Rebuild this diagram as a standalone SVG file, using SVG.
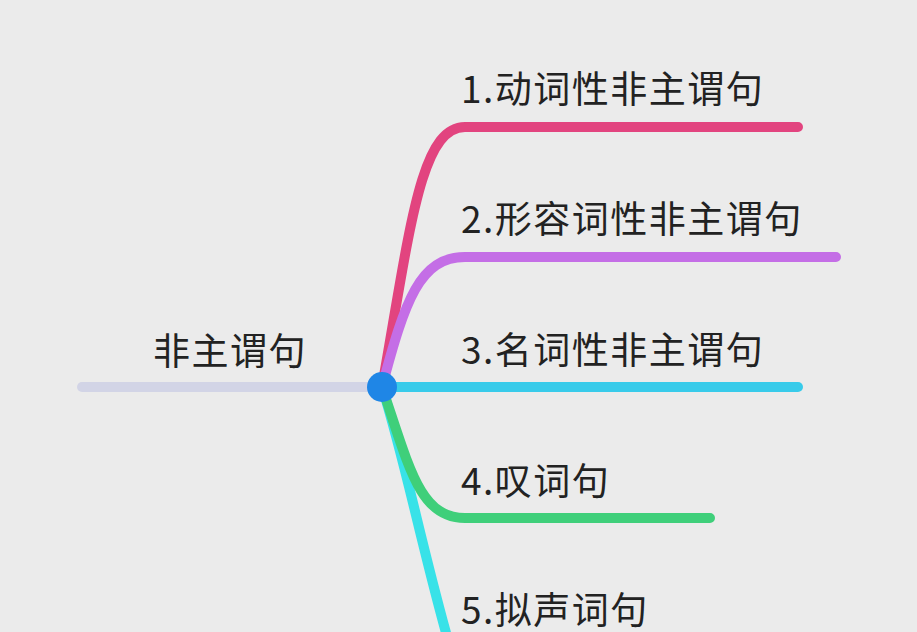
<svg xmlns="http://www.w3.org/2000/svg" width="917" height="632" viewBox="0 0 917 632">
<style>
.t{font-family:"Noto Sans CJK SC","Noto Sans",sans-serif;font-size:37px;letter-spacing:1.5px;fill:#222}
.c{fill:none;stroke-width:10;stroke-linecap:round}
</style>
<rect width="917" height="632" fill="#ebebeb"/>
<g id="connectors">
<path class="c" stroke="#d2d4e6" d="M82,387H382"/>
<path class="c" stroke="#38e2e8" d="M382,387C405,460 420,540 448,640"/>
<path class="c" stroke="#3fcf7a" d="M382,387C410,470 420,518 465,518H710"/>
<path class="c" stroke="#e2447f" d="M382,387C410,230 420,127 465,127H798"/>
<path class="c" stroke="#c46ee6" d="M382,387C405,300 420,257 465,257H836"/>
<path class="c" stroke="#38cbea" d="M382,387H798"/>
</g>
<g id="root"><circle cx="382" cy="387" r="15" fill="#1f86e6"/><text class="t" x="153" y="365">非主谓句</text></g>
<g id="n1"><text class="t" x="461" y="103">1.动词性非主谓句</text></g>
<g id="n2"><text class="t" x="461" y="233">2.形容词性非主谓句</text></g>
<g id="n3"><text class="t" x="461" y="364">3.名词性非主谓句</text></g>
<g id="n4"><text class="t" x="461" y="495">4.叹词句</text></g>
<g id="n5"><text class="t" x="461" y="624">5.拟声词句</text></g>
</svg>
